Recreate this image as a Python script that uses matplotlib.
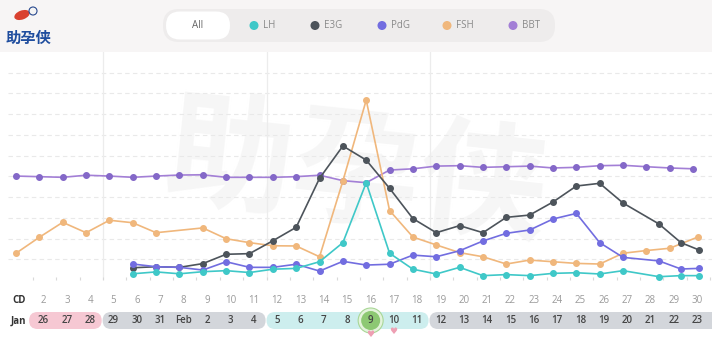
import numpy as np
import matplotlib
matplotlib.use("Agg")
import matplotlib.pyplot as plt
from matplotlib.patches import FancyBboxPatch, Ellipse, Rectangle

plt.rcParams['font.family'] = ['Open Sans', 'Noto Sans CJK SC', 'DejaVu Sans']

# ---------------- data ----------------
bbt_days = list(range(1, 31))
bbt_vals = [5.01, 4.98, 4.95, 5.05, 5.01, 4.95, 5.01, 5.06, 5.07, 4.95,
            4.95, 4.95, 4.98, 5.05, 4.79, 4.69, 5.30, 5.36, 5.49, 5.51,
            5.43, 5.46, 5.49, 5.40, 5.43, 5.51, 5.53, 5.46, 5.40, 5.36]

fsh_days = [1, 2, 3, 4, 5, 6, 7] + list(range(9, 30)) + [30.2]
fsh_vals = [1.29, 2.06, 2.78, 2.28, 2.88, 2.76, 2.28,
            2.51, 1.99, 1.80, 1.65, 1.64, 1.12, 4.77, 8.67, 3.35, 2.07,
            1.69, 1.32, 1.12, 0.77, 0.96, 0.88, 0.80, 0.77, 1.29, 1.42, 1.53,
            2.07]

hormone_days = list(range(6, 28)) + [28.54, 29.48, 30.25]
e3g_vals = [0.59, 0.64, 0.61, 0.79, 1.24, 1.27, 1.89, 2.54, 4.90, 6.46, 5.78,
            4.42, 2.96, 2.28, 2.62, 2.28, 3.02, 3.13, 3.76, 4.53, 4.66, 3.71,
            2.70, 1.80, 1.45]
pdg_vals = [0.77, 0.64, 0.61, 0.48, 0.88, 0.61, 0.61, 0.76, 0.43, 0.90, 0.72,
            0.76, 1.20, 1.12, 1.41, 1.88, 2.25, 2.41, 2.94, 3.21, 1.80, 1.09,
            0.92, 0.53, 0.56]
lh_vals = [0.30, 0.39, 0.30, 0.40, 0.45, 0.36, 0.52, 0.56, 0.88, 1.80, 4.69,
           1.29, 0.52, 0.29, 0.61, 0.21, 0.26, 0.21, 0.32, 0.35, 0.29, 0.45,
           0.16, 0.21, 0.21]

cd_labels = ['CD'] + [str(i) for i in range(2, 31)]
date_labels = ['Jan', '26', '27', '28', '29', '30', '31', 'Feb', '2', '3', '4',
               '5', '6', '7', '8', '9', '10', '11', '12', '13', '14', '15',
               '16', '17', '18', '19', '20', '21', '22', '23']
legend_labels = ['LH', 'E3G', 'PdG', 'FSH', 'BBT']

# week segments for the date strip
week_bounds = [1.56, 4.71, 11.73, 18.71, 31.2]
week_colors = ['#f6c8d3', '#d3d6db', '#cdeeee', '#d3d6db']

# ---------------- styles ----------------
c_lh = '#3fc8c8'
c_e3g = '#4d545b'
c_pdg = '#726de0'
c_fsh = '#f0b77c'
c_bbt = '#a37fd6'
c_bbt_m = '#8468c8'

W, H = 712, 340
fig = plt.figure(figsize=(W / 100, H / 100), dpi=100)
fig.patch.set_facecolor('white')

xlim = (0.657, 30.81)
left, width = 8 / W, 704 / W

ax = fig.add_axes([left, (H - 280) / H, width, 228 / H])
ax.set_facecolor('white')
ax.set_xlim(*xlim)
ax.set_ylim(0, 10.99)
for s in ax.spines.values():
    s.set_visible(False)
ax.set_yticks([])
ax.set_xticks(np.arange(1, 31) + 0.73)
ax.set_xticklabels([])
ax.tick_params(axis='x', direction='in', length=2.5, width=0.8, color='#d9d9d9')

# watermark
ax.text(15.6, 5.0, '助孕侠', fontsize=92, color='#f6f6f6', ha='center', va='center',
        family=['Noto Sans CJK SC'], fontweight='bold', zorder=0, rotation=-6)

for yv in range(1, 11):
    ax.axhline(yv, color='#e9e9e9', lw=0.8, ls=(0, (4, 3)), zorder=1)
for xv in week_bounds[1:4]:
    ax.axvline(xv + 0.02, color='#ececec', lw=0.9, zorder=1)

def series(xs, ys, c, mc=None):
    ax.plot(xs, ys, color=c, lw=1.2, zorder=3, marker='o', markersize=4,
            markerfacecolor=mc or c, markeredgecolor=mc or c)

series(bbt_days, bbt_vals, c_bbt, c_bbt_m)
series(fsh_days, fsh_vals, c_fsh)
series(hormone_days, e3g_vals, c_e3g)
series(hormone_days, pdg_vals, c_pdg)
series(hormone_days, lh_vals, c_lh)

# ---------------- date strip ----------------
sx = fig.add_axes([left, 0, width, 60 / H])
sx.set_xlim(*xlim)
sx.set_ylim(340, 280)
sx.axis('off')
pxday = 704 / (xlim[1] - xlim[0])
r = 8.5 / pxday
for i in range(4):
    x0, x1 = week_bounds[i], week_bounds[i + 1]
    sx.add_patch(FancyBboxPatch((x0, 312), (x1 - x0) - 0.04, 17,
                                boxstyle=f'round,pad=0,rounding_size={r}',
                                mutation_aspect=pxday, facecolor=week_colors[i],
                                edgecolor='none', zorder=1))

# highlighted day (CD16 / Feb 9)
sx.add_patch(Ellipse((16.19, 320.5), 2 * 12.5 / pxday, 25, facecolor='#e4f3dc',
                     edgecolor='#a9d796', lw=0.8, zorder=2))
sx.add_patch(Ellipse((16.19, 320.5), 2 * 9.5 / pxday, 19, facecolor='#8dc873',
                     edgecolor='none', zorder=3))

for i, (cl, dl) in enumerate(zip(cd_labels, date_labels)):
    d = i + 1
    if i == 0:
        sx.text(1.12, 300.5, cl, ha='center', va='center', fontsize=7,
                color='#333333', fontweight='bold', zorder=5)
        sx.text(1.12, 321, dl, ha='center', va='center', fontsize=7,
                color='#333333', fontweight='bold', zorder=5)
    else:
        sx.text(d + 0.18, 300.5, cl, ha='center', va='center', fontsize=7,
                color='#9a9a9a', zorder=5)
        sx.text(d + 0.18, 321, dl, ha='center', va='center', fontsize=7,
                color='#454545', fontweight='semibold', zorder=5)

sx.text(16.19, 334.5, '♥', ha='center', va='center', fontsize=6.5, color='#ee9fb3',
        family=['DejaVu Sans'], zorder=6)
sx.text(17.18, 331.5, '♥', ha='center', va='center', fontsize=6.5, color='#ee9fb3',
        family=['DejaVu Sans'], zorder=6)

# ---------------- header / legend ----------------
hx = fig.add_axes([0, 1 - 52 / H, 1, 52 / H])
hx.set_xlim(0, W)
hx.set_ylim(52, 0)
hx.axis('off')
hx.set_zorder(5)
hx.add_patch(Rectangle((0, 0), W, 52, facecolor='#f7f5f5', edgecolor='none', zorder=0))
hx.add_patch(FancyBboxPatch((163, 9), 392, 33, boxstyle='round,pad=0,rounding_size=16',
                            facecolor='#eeecec', edgecolor='none', zorder=1))
hx.add_patch(FancyBboxPatch((166, 11.5), 64, 28, boxstyle='round,pad=0,rounding_size=14',
                            facecolor='white', edgecolor='none', zorder=2))
hx.text(198, 25.5, 'All', ha='center', va='center', fontsize=7, color='#666666', zorder=3)
leg_colors = [c_lh, c_e3g, c_pdg, c_fsh, c_bbt]
dot_x = [254, 315, 382, 447, 513]
for lab, col, dx in zip(legend_labels, leg_colors, dot_x):
    hx.add_patch(Ellipse((dx, 25.5), 9, 9, facecolor=col, edgecolor='none', zorder=3))
    hx.text(dx + 9, 25.5, lab, ha='left', va='center', fontsize=7, color='#8a8a8a', zorder=3)

# logo
hx.add_patch(Ellipse((22, 15), 16, 9, angle=-20, facecolor='#d9412f', edgecolor='none', zorder=3))
hx.add_patch(Ellipse((33, 11), 8, 8, facecolor='#f4f4f4', edgecolor='#2a4a8f', lw=0.8, zorder=4))
hx.text(28, 38, '助孕侠', ha='center', va='center', fontsize=11, color='#1f4d9e',
        fontweight='bold', family=['Noto Sans CJK SC'], zorder=5)

fig.savefig('out.png', dpi=100, facecolor=fig.get_facecolor())
